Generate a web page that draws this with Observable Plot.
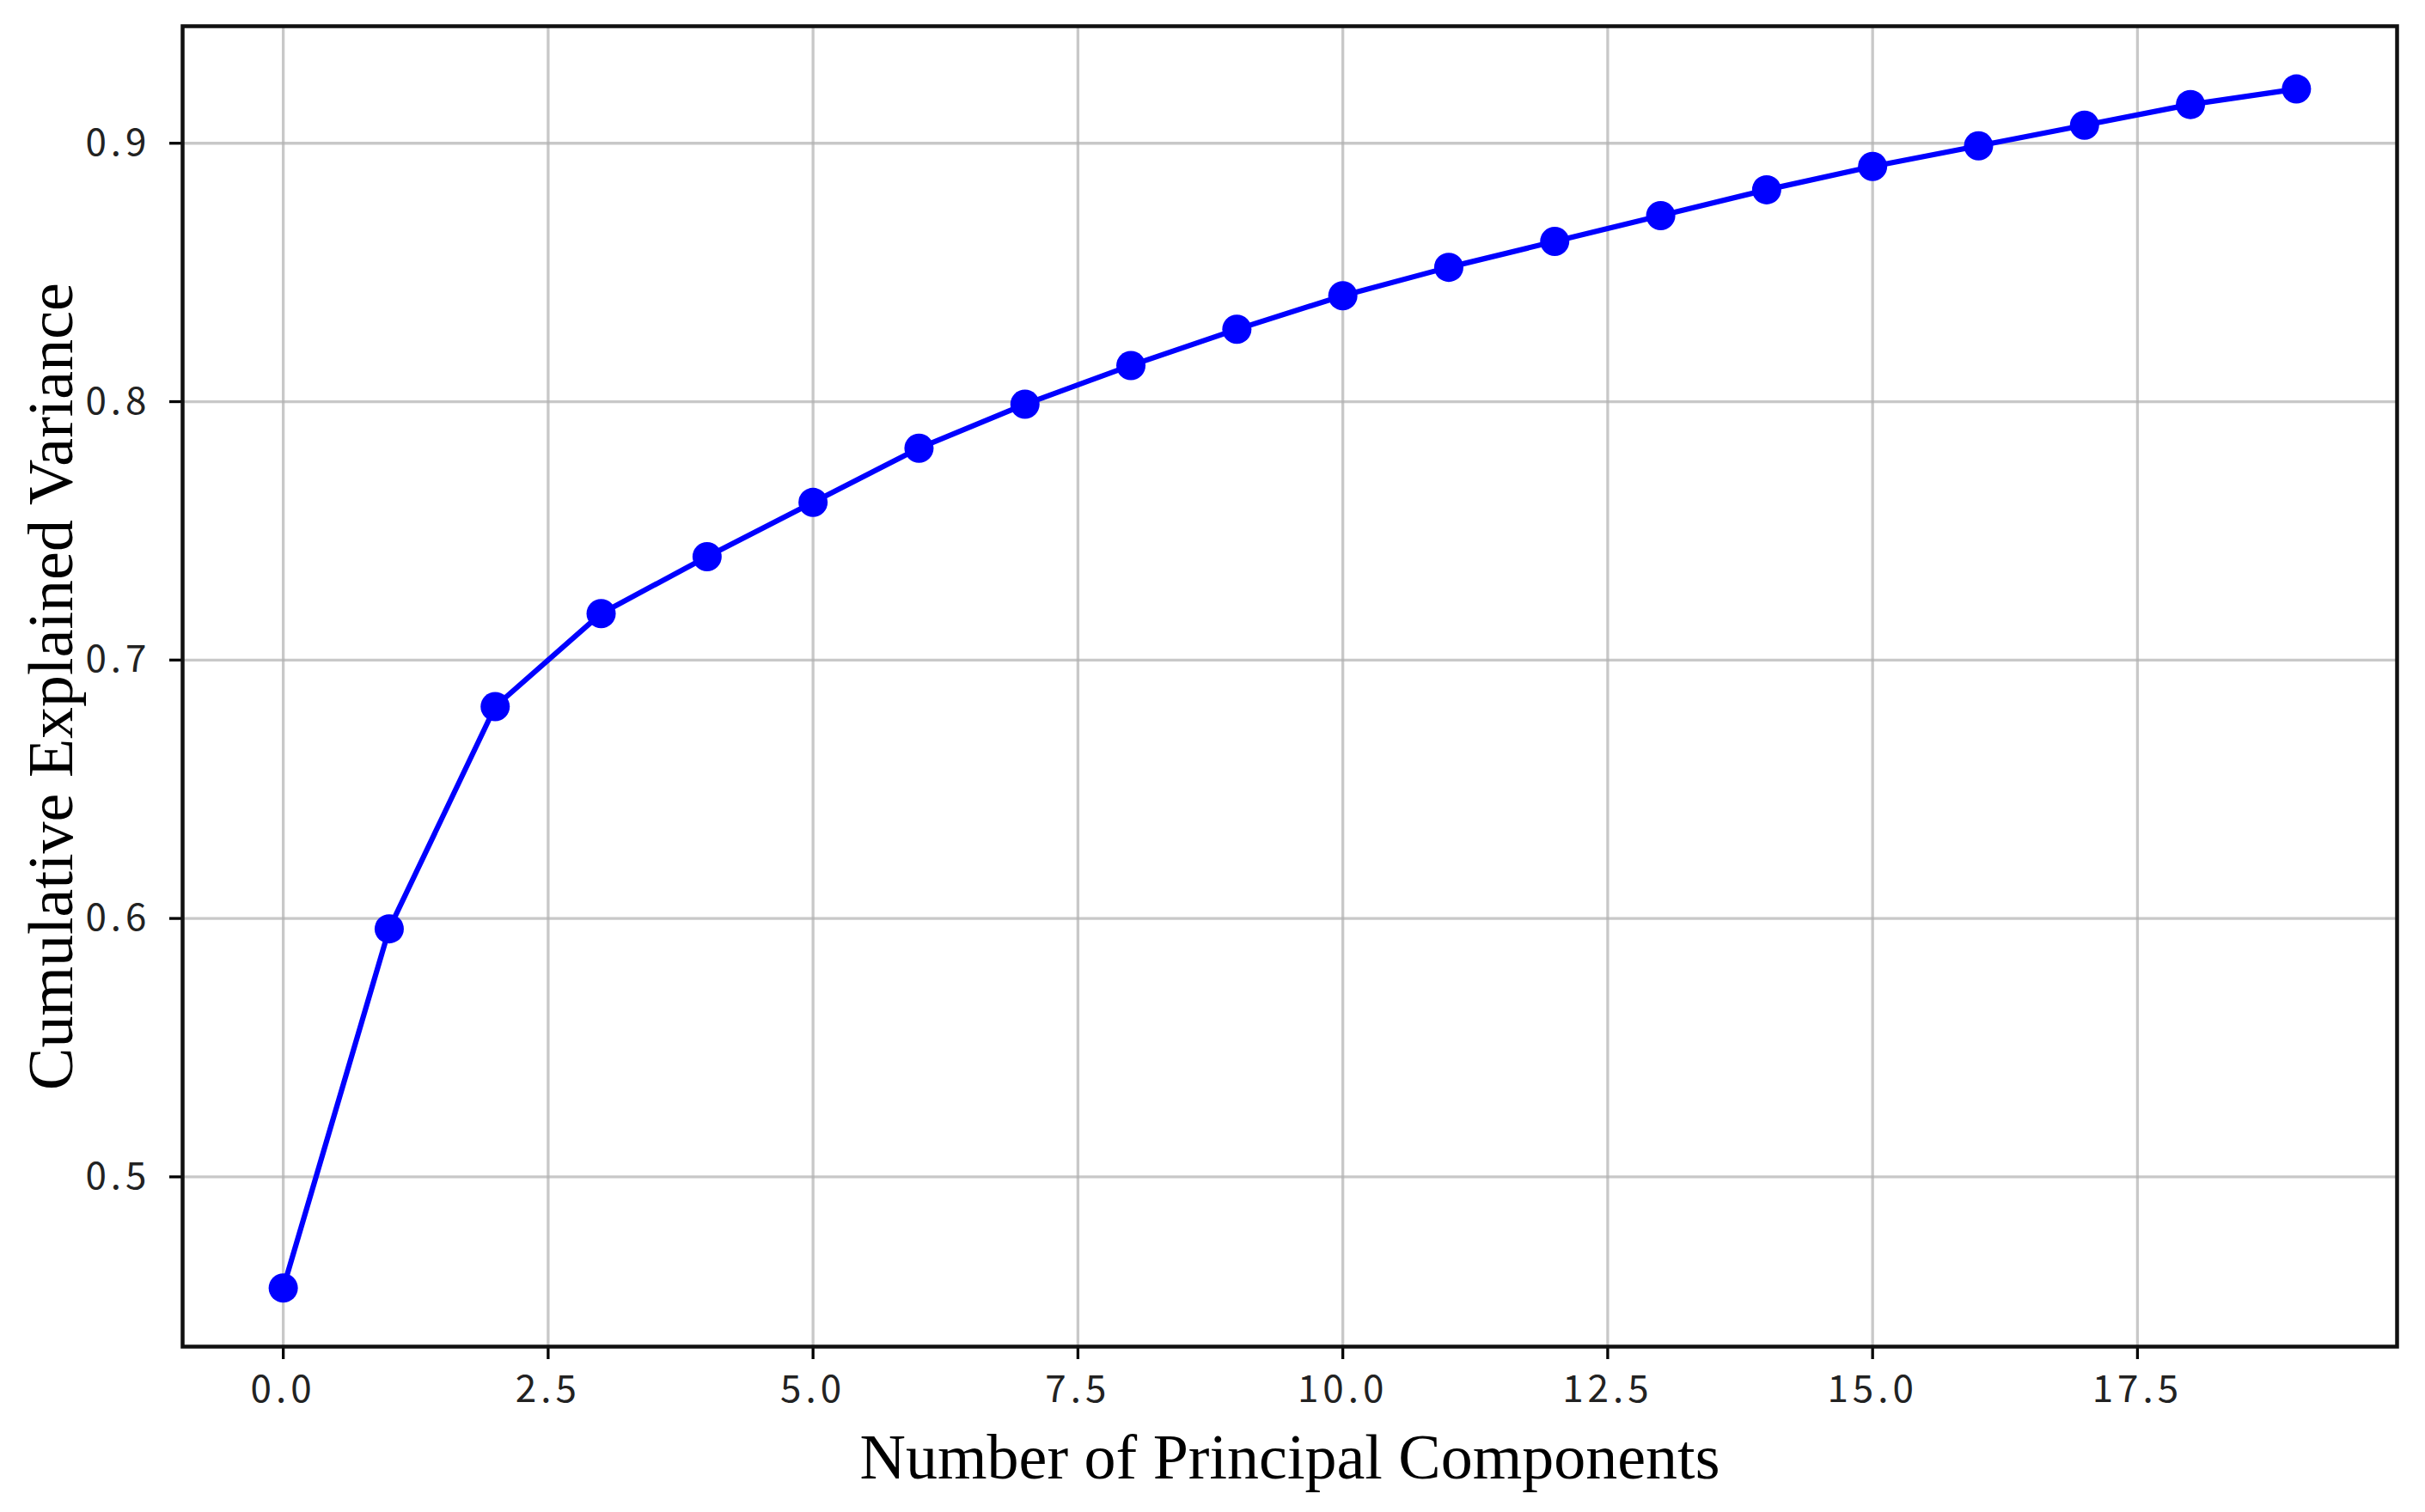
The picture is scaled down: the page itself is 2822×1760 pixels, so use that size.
<!DOCTYPE html>
<html>
<head>
<meta charset="utf-8">
<script src="https://cdn.jsdelivr.net/npm/d3@7"></script>
<script src="https://cdn.jsdelivr.net/npm/@observablehq/plot@0.6"></script>
<style>
  html, body { margin: 0; padding: 0; background: #ffffff; }
  #chart { width: 2822px; height: 1760px; }
  .ticklbl text { letter-spacing: 5px; }
</style>
</head>
<body>
<div id="chart"></div>
<script>
const components = [0, 1, 2, 3, 4, 5, 6, 7, 8, 9, 10, 11, 12, 13, 14, 15, 16, 17, 18, 19];
const cumulativeVariance = [0.457, 0.596, 0.682, 0.718, 0.740, 0.761, 0.782, 0.799, 0.814, 0.828,
                            0.841, 0.852, 0.862, 0.872, 0.882, 0.891, 0.899, 0.907, 0.915, 0.921];
const xTicks = [0, 2.5, 5, 7.5, 10, 12.5, 15, 17.5];
const yTicks = [0.5, 0.6, 0.7, 0.8, 0.9];
const xLabel = "Number of Principal Components";
const yLabel = "Cumulative Explained Variance";

const data = components.map((c, i) => ({c, v: cumulativeVariance[i]}));

const tickFont = "'Noto Sans CJK SC', 'DejaVu Sans', sans-serif";
const labelFont = "'Liberation Serif', 'Times New Roman', serif";

const chart = Plot.plot({
  width: 2822,
  height: 1760,
  marginLeft: 212,
  marginRight: 33,
  marginTop: 30,
  marginBottom: 193,
  style: {background: "#ffffff", overflow: "visible"},
  x: {domain: [-0.95, 19.95]},
  y: {domain: [0.4343, 0.9453]},
  marks: [
    Plot.gridX(xTicks, {stroke: "#b0b0b0", strokeOpacity: 0.7, strokeWidth: 3.3}),
    Plot.gridY(yTicks, {stroke: "#b0b0b0", strokeOpacity: 0.7, strokeWidth: 3.3}),
    Plot.axisX(xTicks, {tickFormat: d => d.toFixed(1), tickSize: 15, tickPadding: 18, strokeWidth: 3.3,
      stroke: "#000", fill: "#222", fontSize: 44, fontFamily: tickFont, label: null, className: "ticklbl"}),
    Plot.axisY(yTicks, {tickFormat: d => d.toFixed(1), tickSize: 15, tickPadding: 22, strokeWidth: 3.3,
      stroke: "#000", fill: "#222", fontSize: 44, fontFamily: tickFont, label: null, className: "ticklbl"}),
    Plot.line(data, {x: "c", y: "v", stroke: "#0000ff", strokeWidth: 6.2}),
    Plot.dot(data, {x: "c", y: "v", r: 17, fill: "#0000ff", stroke: "none"}),
    Plot.frame({stroke: "#111", strokeWidth: 4.5}),
    Plot.text([xLabel], {frameAnchor: "bottom", dy: 130, text: d => d, fontSize: 74,
      fontFamily: labelFont, fill: "#000", lineAnchor: "middle", textAnchor: "middle"}),
    Plot.text([yLabel], {frameAnchor: "left", dx: -152, rotate: -90, text: d => d, fontSize: 74,
      fontFamily: labelFont, fill: "#000", lineAnchor: "middle", textAnchor: "middle"})
  ]
});
document.getElementById("chart").appendChild(chart);
</script>
</body>
</html>
